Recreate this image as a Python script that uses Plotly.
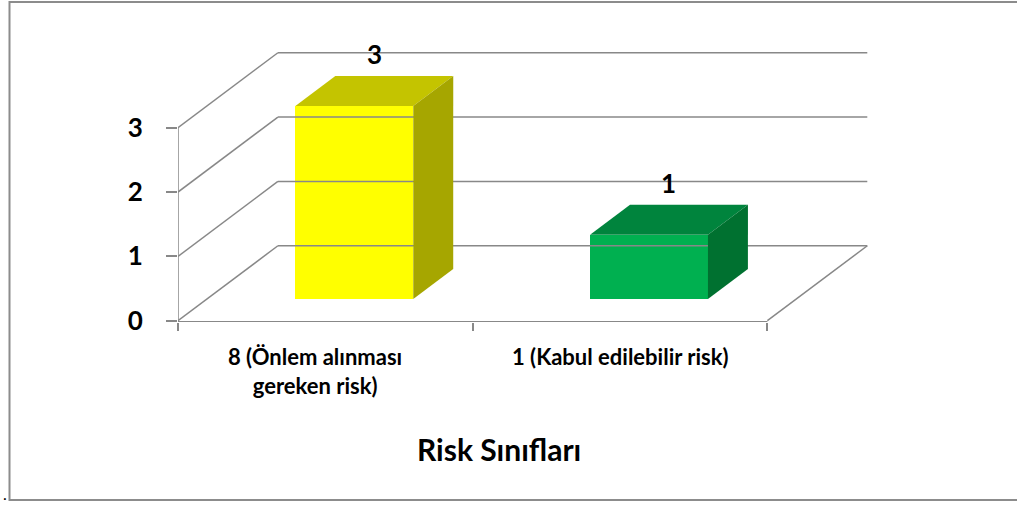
import plotly.graph_objects as go

# ---- data -------------------------------------------------------------
categories = ["8 (Önlem alınması<br>gereken risk)", "1 (Kabul edilebilir risk)"]
values = [3, 1]
front_colors = ["#FFFF00", "#00B050"]
top_colors = ["#C4C400", "#00843D"]
side_colors = ["#A6A600", "#007130"]
y_ticks = [0, 1, 2, 3]
axis_title = "Risk Sınıfları"

# ---- pseudo-3D geometry (in axis units) -------------------------------
DX, DY = 0.339, 1.165          # full depth of the floor: shift right / up
BAR_W = 0.40                   # bar width as a fraction of a category
D0, D1 = 0.29, 0.69            # bar front/back depth as a fraction of DX/DY
X0, X1 = -0.5, len(categories) - 0.5
GRID = "#888888"

W, H = 1017, 506
L, R, T, B = 178, 117, 20, 184
XMIN, XMAX = -0.5, 1.95
YMIN, YMAX = -0.02, 4.674

fig = go.Figure()


def line(xs, ys, width=1.5):
    fig.add_trace(go.Scatter(x=xs, y=ys, mode="lines",
                             line=dict(color=GRID, width=width),
                             hoverinfo="skip", showlegend=False))


# back wall gridlines
for v in y_ticks:
    line([X0 + DX, X1 + DX], [v + DY, v + DY])
# side wall diagonals
for v in y_ticks:
    line([X0, X0 + DX], [v, v + DY])
# front value axis and category axis
line([X0, X0], [0, y_ticks[-1]])
line([X0, X1], [-0.015, -0.015])
# right edge of floor
line([X1, X1 + DX], [0, DY])

# bars: front face as bars, top/side faces as filled polygons
for i, (v, fc, tc, sc) in enumerate(zip(values, front_colors, top_colors, side_colors)):
    xl = i - BAR_W / 2 + D0 * DX
    xr = i + BAR_W / 2 + D0 * DX
    yb = D0 * DY
    ddx = (D1 - D0) * DX
    ddy = (D1 - D0) * DY
    # top face
    fig.add_trace(go.Scatter(
        x=[xl, xr, xr + ddx, xl + ddx, xl],
        y=[yb + v, yb + v, yb + v + ddy, yb + v + ddy, yb + v],
        fill="toself", fillcolor=tc, mode="lines", line=dict(width=0, color=tc),
        hoverinfo="skip", showlegend=False))
    # side face
    fig.add_trace(go.Scatter(
        x=[xr, xr + ddx, xr + ddx, xr, xr],
        y=[yb, yb + ddy, yb + v + ddy, yb + v, yb],
        fill="toself", fillcolor=sc, mode="lines", line=dict(width=0, color=sc),
        hoverinfo="skip", showlegend=False))
    # front face
    fig.add_trace(go.Bar(x=[i + D0 * DX], y=[v], base=[yb], width=BAR_W,
                         marker=dict(color=fc, line=dict(width=0)),
                         hoverinfo="skip", showlegend=False))
    # value label above the top face
    fig.add_annotation(x=i + D0 * DX + ddx / 2, y=yb + v + ddy, text=f"<b>{v}</b>",
                       showarrow=False, yanchor="bottom", yshift=4,
                       font=dict(family="Lato", size=26, color="black"))

# category labels
for i, c in enumerate(categories):
    fig.add_annotation(x=i, y=0, text=f"<b>{c}</b>", showarrow=False,
                       yanchor="top", yshift=-20, xshift=-10 if i == 0 else 0,
                       align="center",
                       font=dict(family="Lato", size=22, color="black"))

# axis title
fig.add_annotation(x=0.59, y=0, text=f"<b>{axis_title}</b>", showarrow=False,
                   yanchor="middle", yshift=-128,
                   font=dict(family="Lato", size=30, color="black"))


# chart frame and stray period, placed in pixel terms
def px_x(p):
    return (p - L) / (W - L - R)


def px_y(p):
    return (H - B - p) / (H - T - B)


fig.add_shape(type="rect", xref="paper", yref="paper",
              x0=px_x(9.5), x1=px_x(1030), y0=px_y(500), y1=px_y(2),
              line=dict(color="#8C8C8C", width=2), layer="below")
fig.add_annotation(xref="paper", yref="paper", x=px_x(5), y=px_y(505), text=".",
                   showarrow=False, xanchor="center", yanchor="bottom",
                   font=dict(family="Lato", size=16, color="black"))

fig.update_layout(
    width=W, height=H,
    margin=dict(l=L, r=R, t=T, b=B, pad=0),
    paper_bgcolor="white", plot_bgcolor="white",
    bargap=0, barmode="overlay",
    xaxis=dict(range=[XMIN, XMAX], tickvals=[-0.5, 0.5, 1.5], ticktext=["", "", ""],
               ticks="outside", ticklen=8, tickwidth=1.5, tickcolor=GRID,
               showgrid=False, zeroline=False, showline=False, fixedrange=True),
    yaxis=dict(range=[YMIN, YMAX], tickvals=y_ticks,
               ticks="outside", ticklen=11, tickwidth=1.5, tickcolor=GRID,
               ticklabelstandoff=18,
               tickfont=dict(family="Lato", size=26, color="black", weight="bold"),
               showgrid=False, zeroline=False, showline=False, fixedrange=True),
    showlegend=False,
)

fig.write_html("out.html")
